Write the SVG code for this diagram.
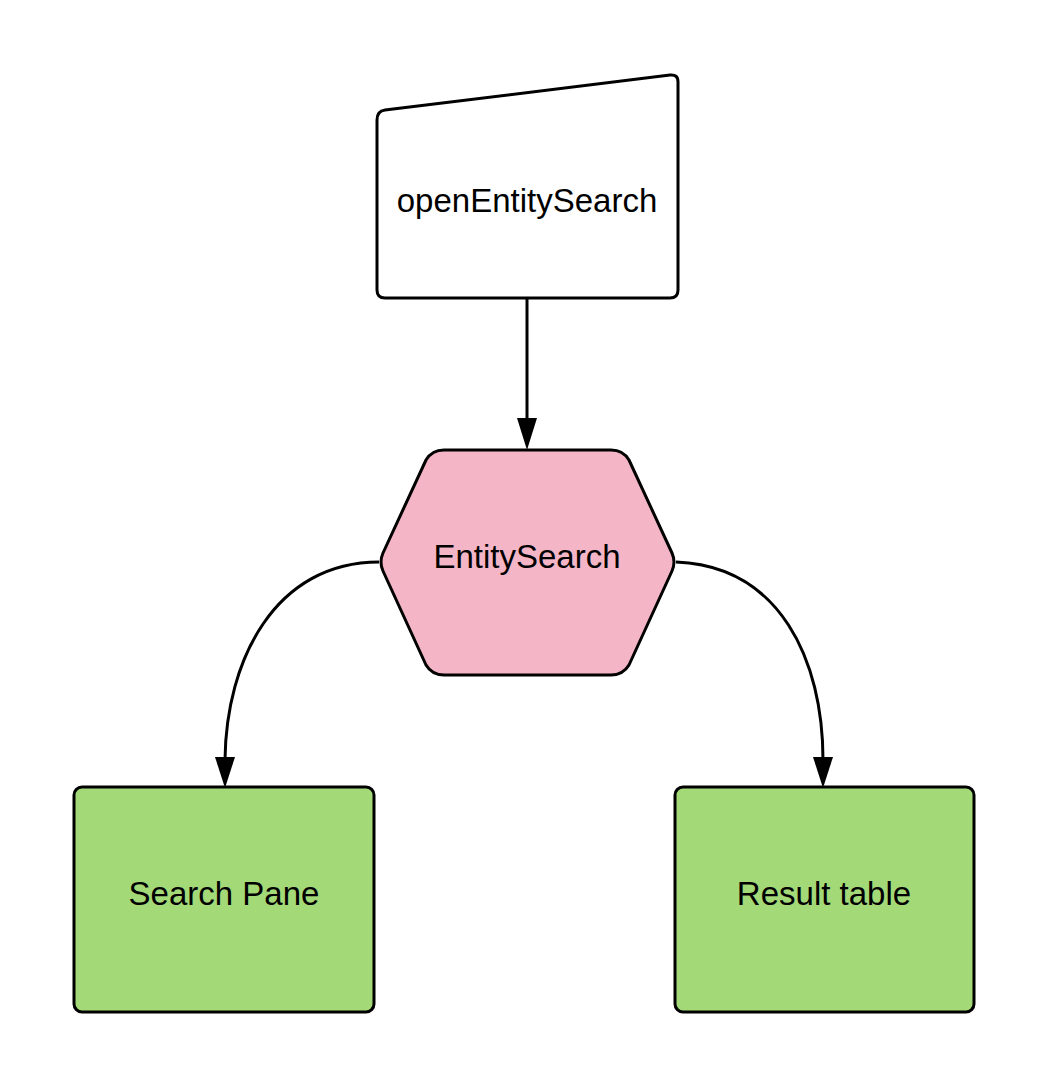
<svg xmlns="http://www.w3.org/2000/svg" width="1050" height="1088" viewBox="0 0 1050 1088">
<style>
.shape{stroke:#000;stroke-width:3;stroke-linejoin:round}
.lbl{font-family:"Liberation Sans",Arial,sans-serif;font-size:33px;fill:#000;text-anchor:middle}
.conn{fill:none;stroke:#000;stroke-width:3}
</style>
<rect width="1050" height="1088" fill="#fff"/>
<g id="connectors">
<path class="conn" d="M527,299 L527,420"/>
<path d="M517,418 L537,418 L527,450 Z" fill="#000"/>
<path class="conn" d="M379,562 C275,562 226,660 225,760"/>
<path d="M215,757 L235,757 L225,788 Z" fill="#000"/>
<path class="conn" d="M676,562 C780,566 823,660 823,760"/>
<path d="M813,757 L833,757 L823,788 Z" fill="#000"/>
</g>
<g id="openEntitySearch">
<path class="shape" fill="#fff" d="M385,110 L670,75 Q678,74 678,82 L678,290 Q678,298 670,298 L385,298 Q377,298 377,290 L377,120 Q377,111 385,110 Z"/>
<text class="lbl" x="527" y="212">openEntitySearch</text>
</g>
<g id="EntitySearch">
<path class="shape" fill="#F4B6C7" d="M444,450 L611,450 Q623,450 629,460 L672,553 Q676,562 672,571 L629,665 Q623,675 611,675 L444,675 Q432,675 426,665 L383,571 Q379,562 383,553 L426,460 Q432,450 444,450 Z"/>
<text class="lbl" x="527" y="568">EntitySearch</text>
</g>
<g id="SearchPane">
<rect class="shape" fill="#A3D977" x="74" y="787" width="300" height="225" rx="8"/>
<text class="lbl" x="224" y="905">Search Pane</text>
</g>
<g id="ResultTable">
<rect class="shape" fill="#A3D977" x="675" y="787" width="299" height="225" rx="8"/>
<text class="lbl" x="824" y="905">Result table</text>
</g>
</svg>
